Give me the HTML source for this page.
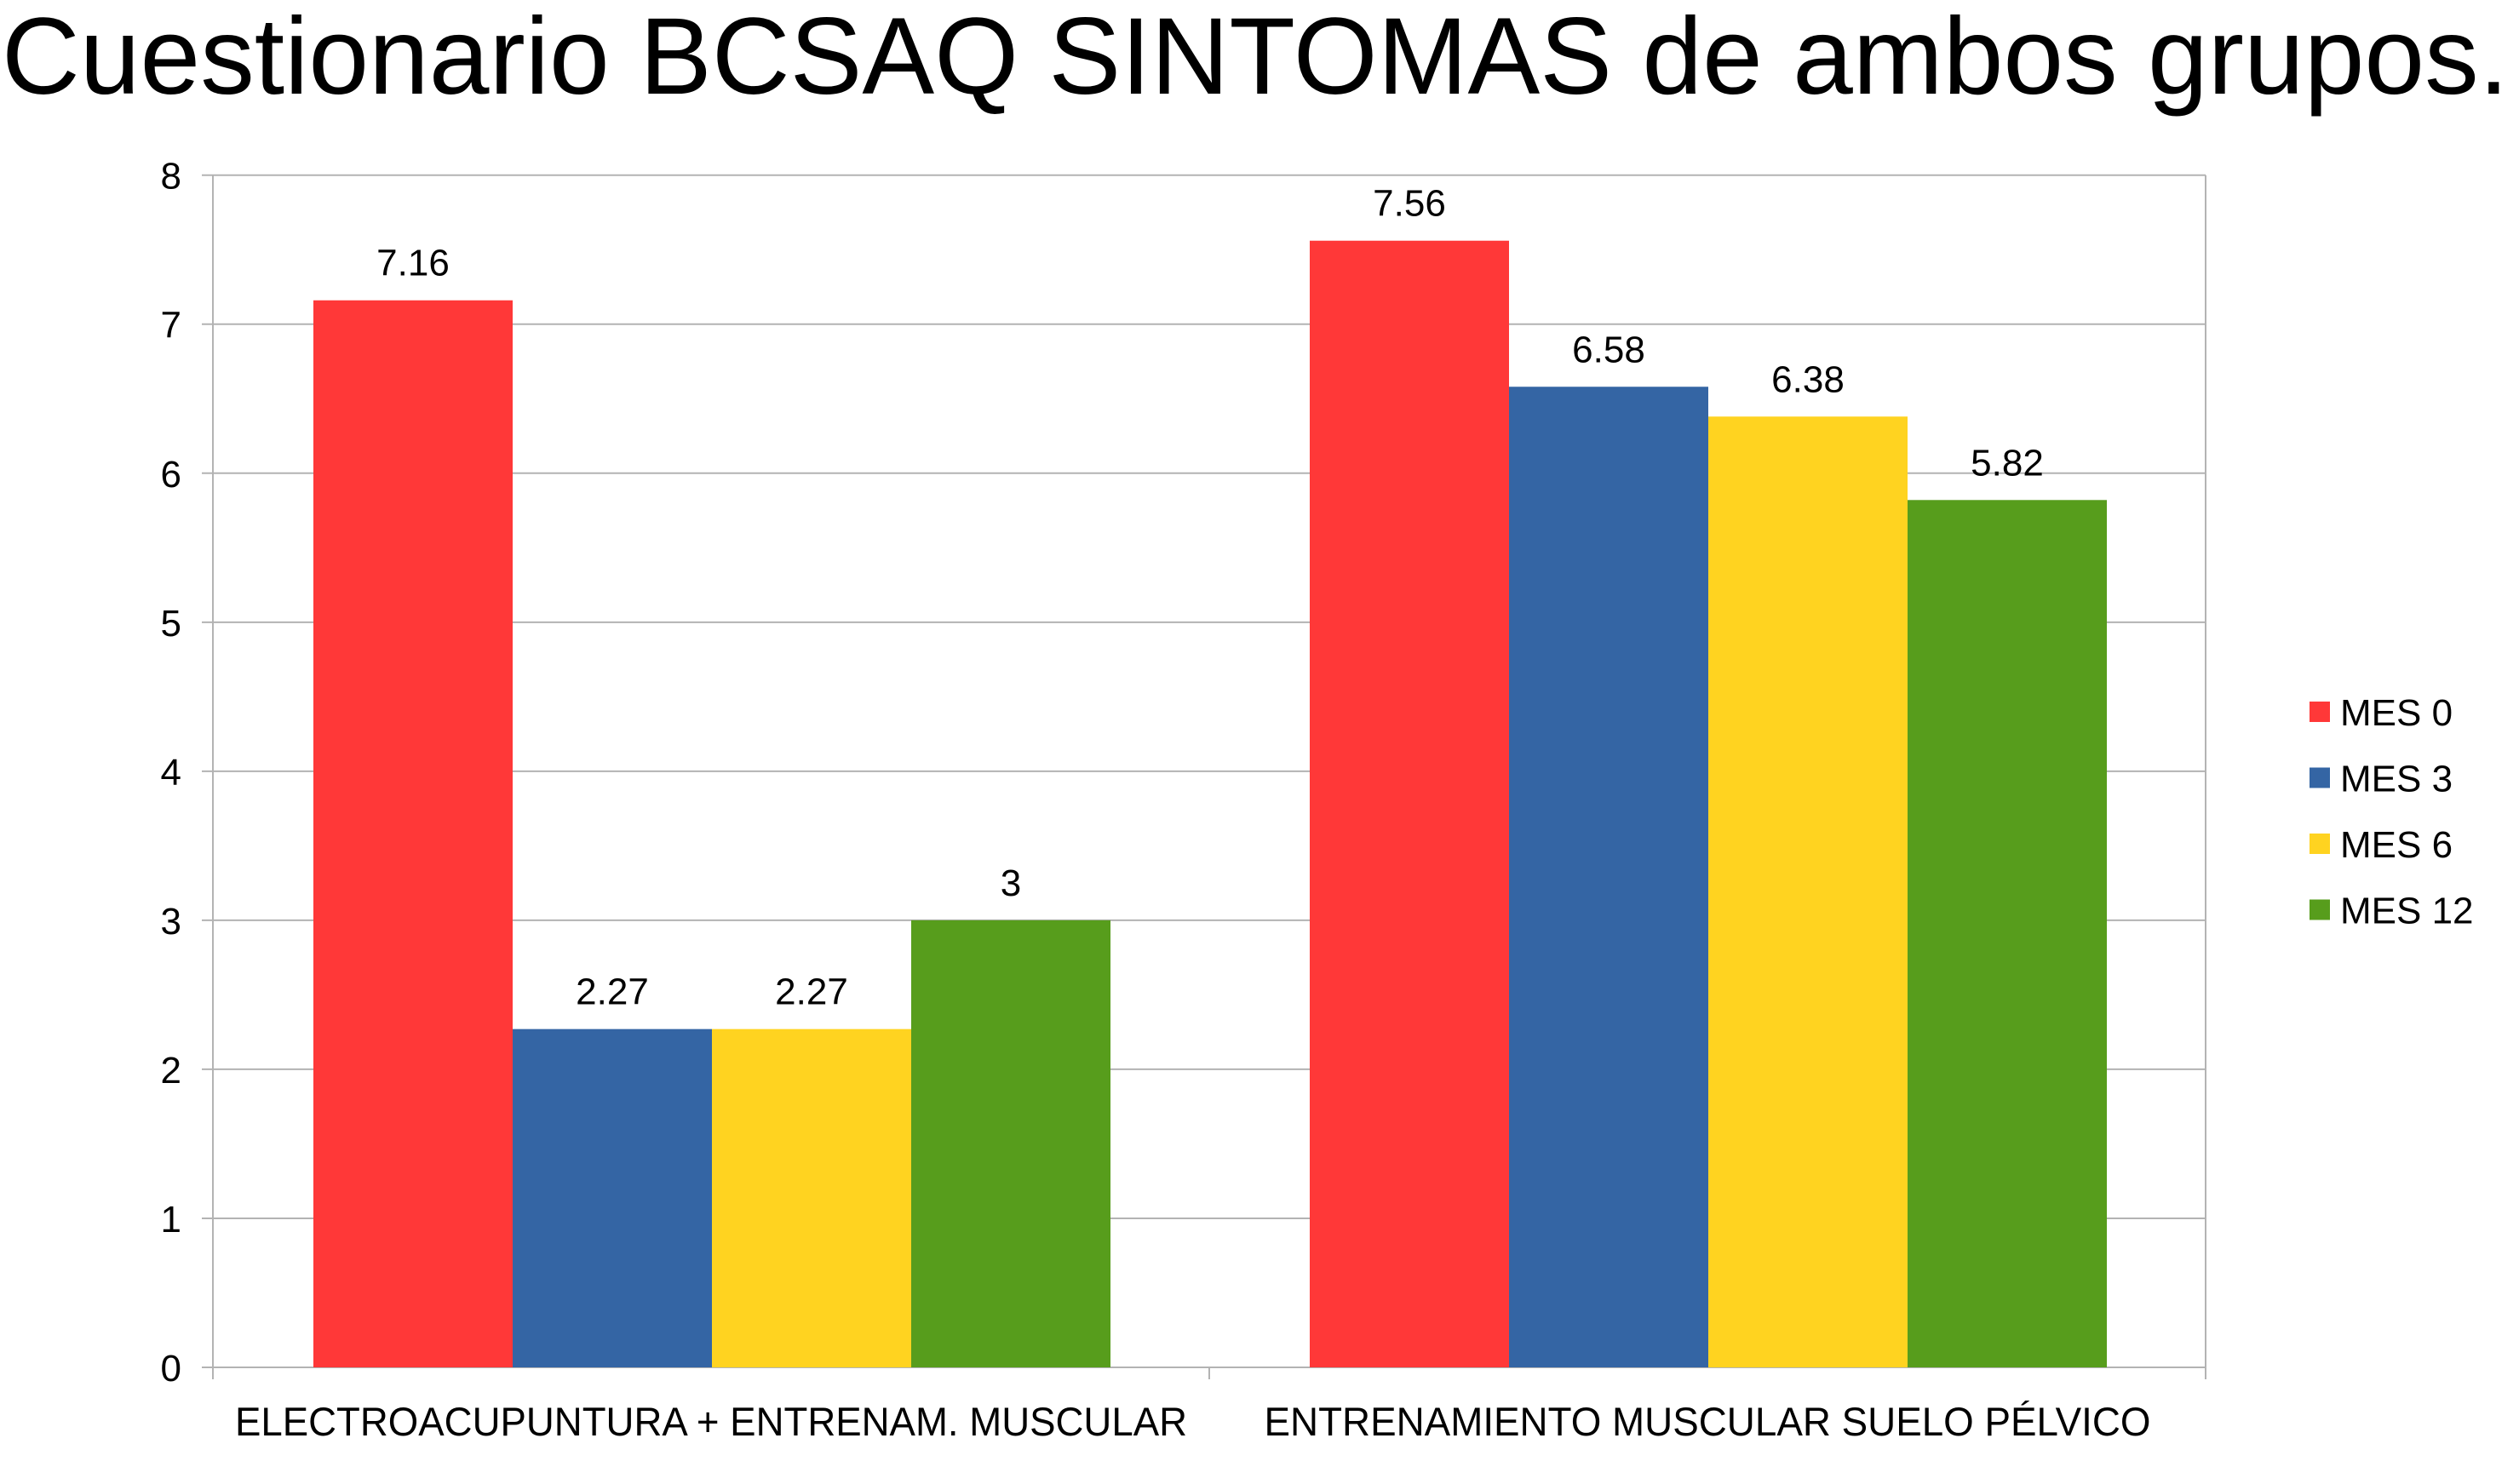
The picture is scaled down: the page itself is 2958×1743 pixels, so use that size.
<!DOCTYPE html>
<html><head><meta charset="utf-8"><style>
html,body{margin:0;padding:0;background:#fff;}
svg{display:block;font-family:"Liberation Sans",Arial,sans-serif;}
</style></head><body>
<svg id="chart" width="2958" height="1743" viewBox="0 0 2958 1743" xmlns="http://www.w3.org/2000/svg">
<rect width="2958" height="1743" fill="#fff"/>
<text x="2" y="110" font-size="128" textLength="2944" lengthAdjust="spacingAndGlyphs" fill="#000">Cuestionario BCSAQ SINTOMAS de ambos grupos.</text>
<g id="grid"></g><g id="bars"></g><g id="labels"></g><g id="legend"></g>
</svg>
<script>
const categories = ["ELECTROACUPUNTURA + ENTRENAM. MUSCULAR", "ENTRENAMIENTO MUSCULAR SUELO PÉLVICO"];
const seriesNames = ["MES 0", "MES 3", "MES 6", "MES 12"];
const mes0 = [7.16, 7.56];
const mes3 = [2.27, 6.58];
const mes6 = [2.27, 6.38];
const mes12 = [3, 5.82];
const yTicks = [0, 1, 2, 3, 4, 5, 6, 7, 8];
const valueLabels = [["7.16", "7.56"], ["2.27", "6.58"], ["2.27", "6.38"], ["3", "5.82"]];

const series = [mes0, mes3, mes6, mes12];
const colors = ["#ff3838", "#3465a4", "#ffd320", "#579d1c"];
const catLabelWidths = [1118, 1041];
const NS = "http://www.w3.org/2000/svg";
const L = 250, R = 2590, T = 205.7, B = 1606, yMax = 8;
const catW = (R - L) / categories.length, gap = 118, barW = 234;
function y(v){ return B - (v / yMax) * (B - T); }
function x(ci, si){ return L + ci * catW + gap + si * barW; }
function mk(tag, attrs, parent){ const e = document.createElementNS(NS, tag); for (const k in attrs) e.setAttribute(k, attrs[k]); parent.appendChild(e); return e; }

const grid = document.getElementById("grid");
yTicks.forEach(t => {
  const g = mk("line", {x1: 237, x2: R, y1: y(t), y2: y(t), stroke: "#b3b3b3", "stroke-width": 2}, grid);
  
  
  const tl = mk("text", {x: 213, y: y(t) + 16, "font-size": 44, "text-anchor": "end", fill: "#000"}, grid);
  tl.textContent = String(t);
  
  
});
const ax = mk("line", {x1: L, x2: L, y1: T, y2: 1620, stroke: "#b3b3b3", "stroke-width": 2}, grid);


for (let i = 1; i <= categories.length; i++) {
  const tk = mk("line", {x1: L + i * catW, x2: L + i * catW, y1: i === categories.length ? T : B, y2: 1620, stroke: "#b3b3b3", "stroke-width": 2}, grid);
  
  
}

const bars = document.getElementById("bars"), labels = document.getElementById("labels");
series.forEach((s, si) => {
  s.forEach((v, ci) => {
    const r = mk("rect", {x: x(ci, si), y: y(v), width: barW, height: B - y(v), fill: colors[si]}, bars);
    
    
    const t = mk("text", {x: x(ci, si) + barW / 2, y: y(v) - 29, "font-size": 44, "text-anchor": "middle", fill: "#000"}, labels);
    t.textContent = valueLabels[si][ci];
    
    
  });
});
categories.forEach((c, ci) => {
  const t = mk("text", {x: L + ci * catW + catW / 2, y: 1686, "font-size": 47, "text-anchor": "middle", fill: "#000", textLength: catLabelWidths[ci], lengthAdjust: "spacingAndGlyphs"}, labels);
  t.textContent = c;
  
  
});

const legend = document.getElementById("legend");
seriesNames.forEach((n, i) => {
  const cy = 836 + i * 77.5;
  const sw = mk("rect", {x: 2712, y: cy - 12, width: 24, height: 24, fill: colors[i]}, legend);
  
  
  const t = mk("text", {x: 2748, y: cy + 16, "font-size": 44, fill: "#000"}, legend);
  t.textContent = n;
  
  
});
</script>
</body></html>
